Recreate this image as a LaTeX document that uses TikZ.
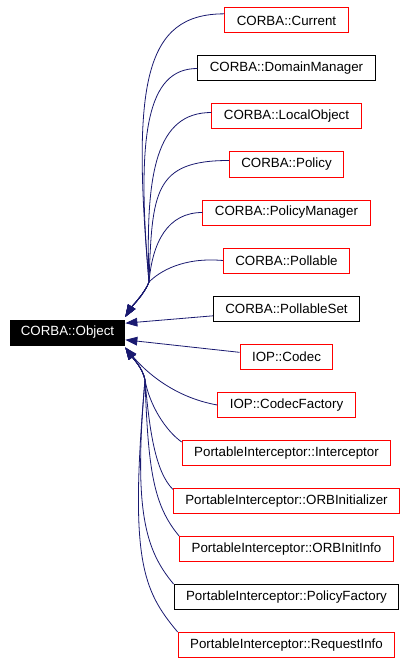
\documentclass[tikz,border=0pt]{standalone}
\usepackage{fontspec}
\setmainfont{Liberation Sans}
\usetikzlibrary{arrows.meta}

\definecolor{edgeblue}{HTML}{191970}

\begin{document}
\begin{tikzpicture}
        [x=0.75pt, y=0.75pt,
         klass/.style={draw=red, line width=0.75pt, minimum height=18.75pt, inner xsep=9pt, inner ysep=0pt, font=\fontsize{10pt}{12pt}\selectfont},
         plain/.style={klass, draw=black},
         link/.style={draw=edgeblue, line width=0.6pt},
         >={Triangle[length=9pt, width=6.5pt]}]
        \useasboundingbox (0,0) rectangle (407,-663);

        \node[plain, fill=black, text=white, inner xsep=8pt] (Obj) at (67.5,-332.5) {CORBA::Object};

        \node[klass] (Cur) at (286.5,-20.5) {CORBA::Current};
        \node[plain] (DM) at (286.5,-68.5) {CORBA::DomainManager};
        \node[klass] (LO) at (286.5,-116.5) {CORBA::LocalObject};
        \node[klass] (Pol) at (286.5,-164.5) {CORBA::Policy};
        \node[klass] (PM) at (286.5,-212.5) {CORBA::PolicyManager};
        \node[klass] (Pl) at (286.5,-260.5) {CORBA::Pollable};
        \node[plain] (PS) at (286.5,-308.5) {CORBA::PollableSet};
        \node[klass] (Cod) at (286.5,-357) {IOP::Codec};
        \node[klass] (CF) at (286.5,-405) {IOP::CodecFactory};
        \node[klass] (Int) at (286.5,-453) {PortableInterceptor::Interceptor};
        \node[klass] (OI) at (286.5,-501) {PortableInterceptor::ORBInitializer};
        \node[klass] (OII) at (286.5,-549) {PortableInterceptor::ORBInitInfo};
        \node[plain] (PF) at (286.5,-597) {PortableInterceptor::PolicyFactory};
        \node[klass] (RI) at (286.5,-645) {PortableInterceptor::RequestInfo};

        \coordinate (hubU) at (149,-282);
        \coordinate (hubL) at (145,-380);

        % upper bundle
        \draw [link, <-] ([yshift=2pt]Obj.north east) .. controls +(58:12) and +(250:12) .. (hubU)
            .. controls +(95:200) and +(180:80) .. ([yshift=5pt]Cur.west);
        \draw [link, <-] ([yshift=2pt]Obj.north east) .. controls +(58:12) and +(250:12) .. (hubU)
            .. controls +(95:150) and +(180:50) .. (DM.west);
        \draw [link, <-] ([yshift=2pt]Obj.north east) .. controls +(58:12) and +(250:12) .. (hubU)
            .. controls +(92:110) and +(180:55) .. ([yshift=3pt]LO.west);
        \draw [link, <-] ([yshift=2pt]Obj.north east) .. controls +(58:12) and +(250:12) .. (hubU)
            .. controls +(88:90) and +(180:75) .. ([yshift=3pt]Pol.west);
        \draw [link, <-] ([yshift=2pt]Obj.north east) .. controls +(58:12) and +(250:12) .. (hubU)
            .. controls +(85:40) and +(180:35) .. (PM.west);
        \draw [link, <-] ([yshift=2pt]Obj.north east) .. controls +(58:12) and +(250:12) .. (hubU)
            .. controls +(45:15) and +(175:40) .. (Pl.west);

        \draw [link, <-] ([yshift=7pt]Obj.east) -- ([yshift=-5.5pt]PS.west);
        \draw [link, <-] ([yshift=-5.5pt]Obj.east) -- ([yshift=3.5pt]Cod.west);

        % lower bundle
        \draw [link, <-] ([yshift=-1.5pt]Obj.south east) .. controls +(-50:30) and +(170:45) .. (CF.west);
        \draw [link, <-] ([yshift=-1.5pt]Obj.south east) .. controls +(-55:12) and +(100:12) .. (hubL)
            .. controls +(-80:25) and +(145:20) .. ([yshift=-1.5pt]Int.north west);
        \draw [link, <-] ([yshift=-1.5pt]Obj.south east) .. controls +(-55:12) and +(100:12) .. (hubL)
            .. controls +(-85:50) and +(135:25) .. ([yshift=-1pt]OI.north west);
        \draw [link, <-] ([yshift=-1.5pt]Obj.south east) .. controls +(-55:12) and +(100:12) .. (hubL)
            .. controls +(-88:90) and +(130:40) .. (OII.north west);
        \draw [link, <-] ([yshift=-1.5pt]Obj.south east) .. controls +(-55:12) and +(100:12) .. (hubL)
            .. controls +(-95:130) and +(130:45) .. (PF.north west);
        \draw [link, <-] ([yshift=-1.5pt]Obj.south east) .. controls +(-55:12) and +(100:12) .. (hubL)
            .. controls +(-95:180) and +(130:55) .. (RI.north west);
\end{tikzpicture}
\end{document}
